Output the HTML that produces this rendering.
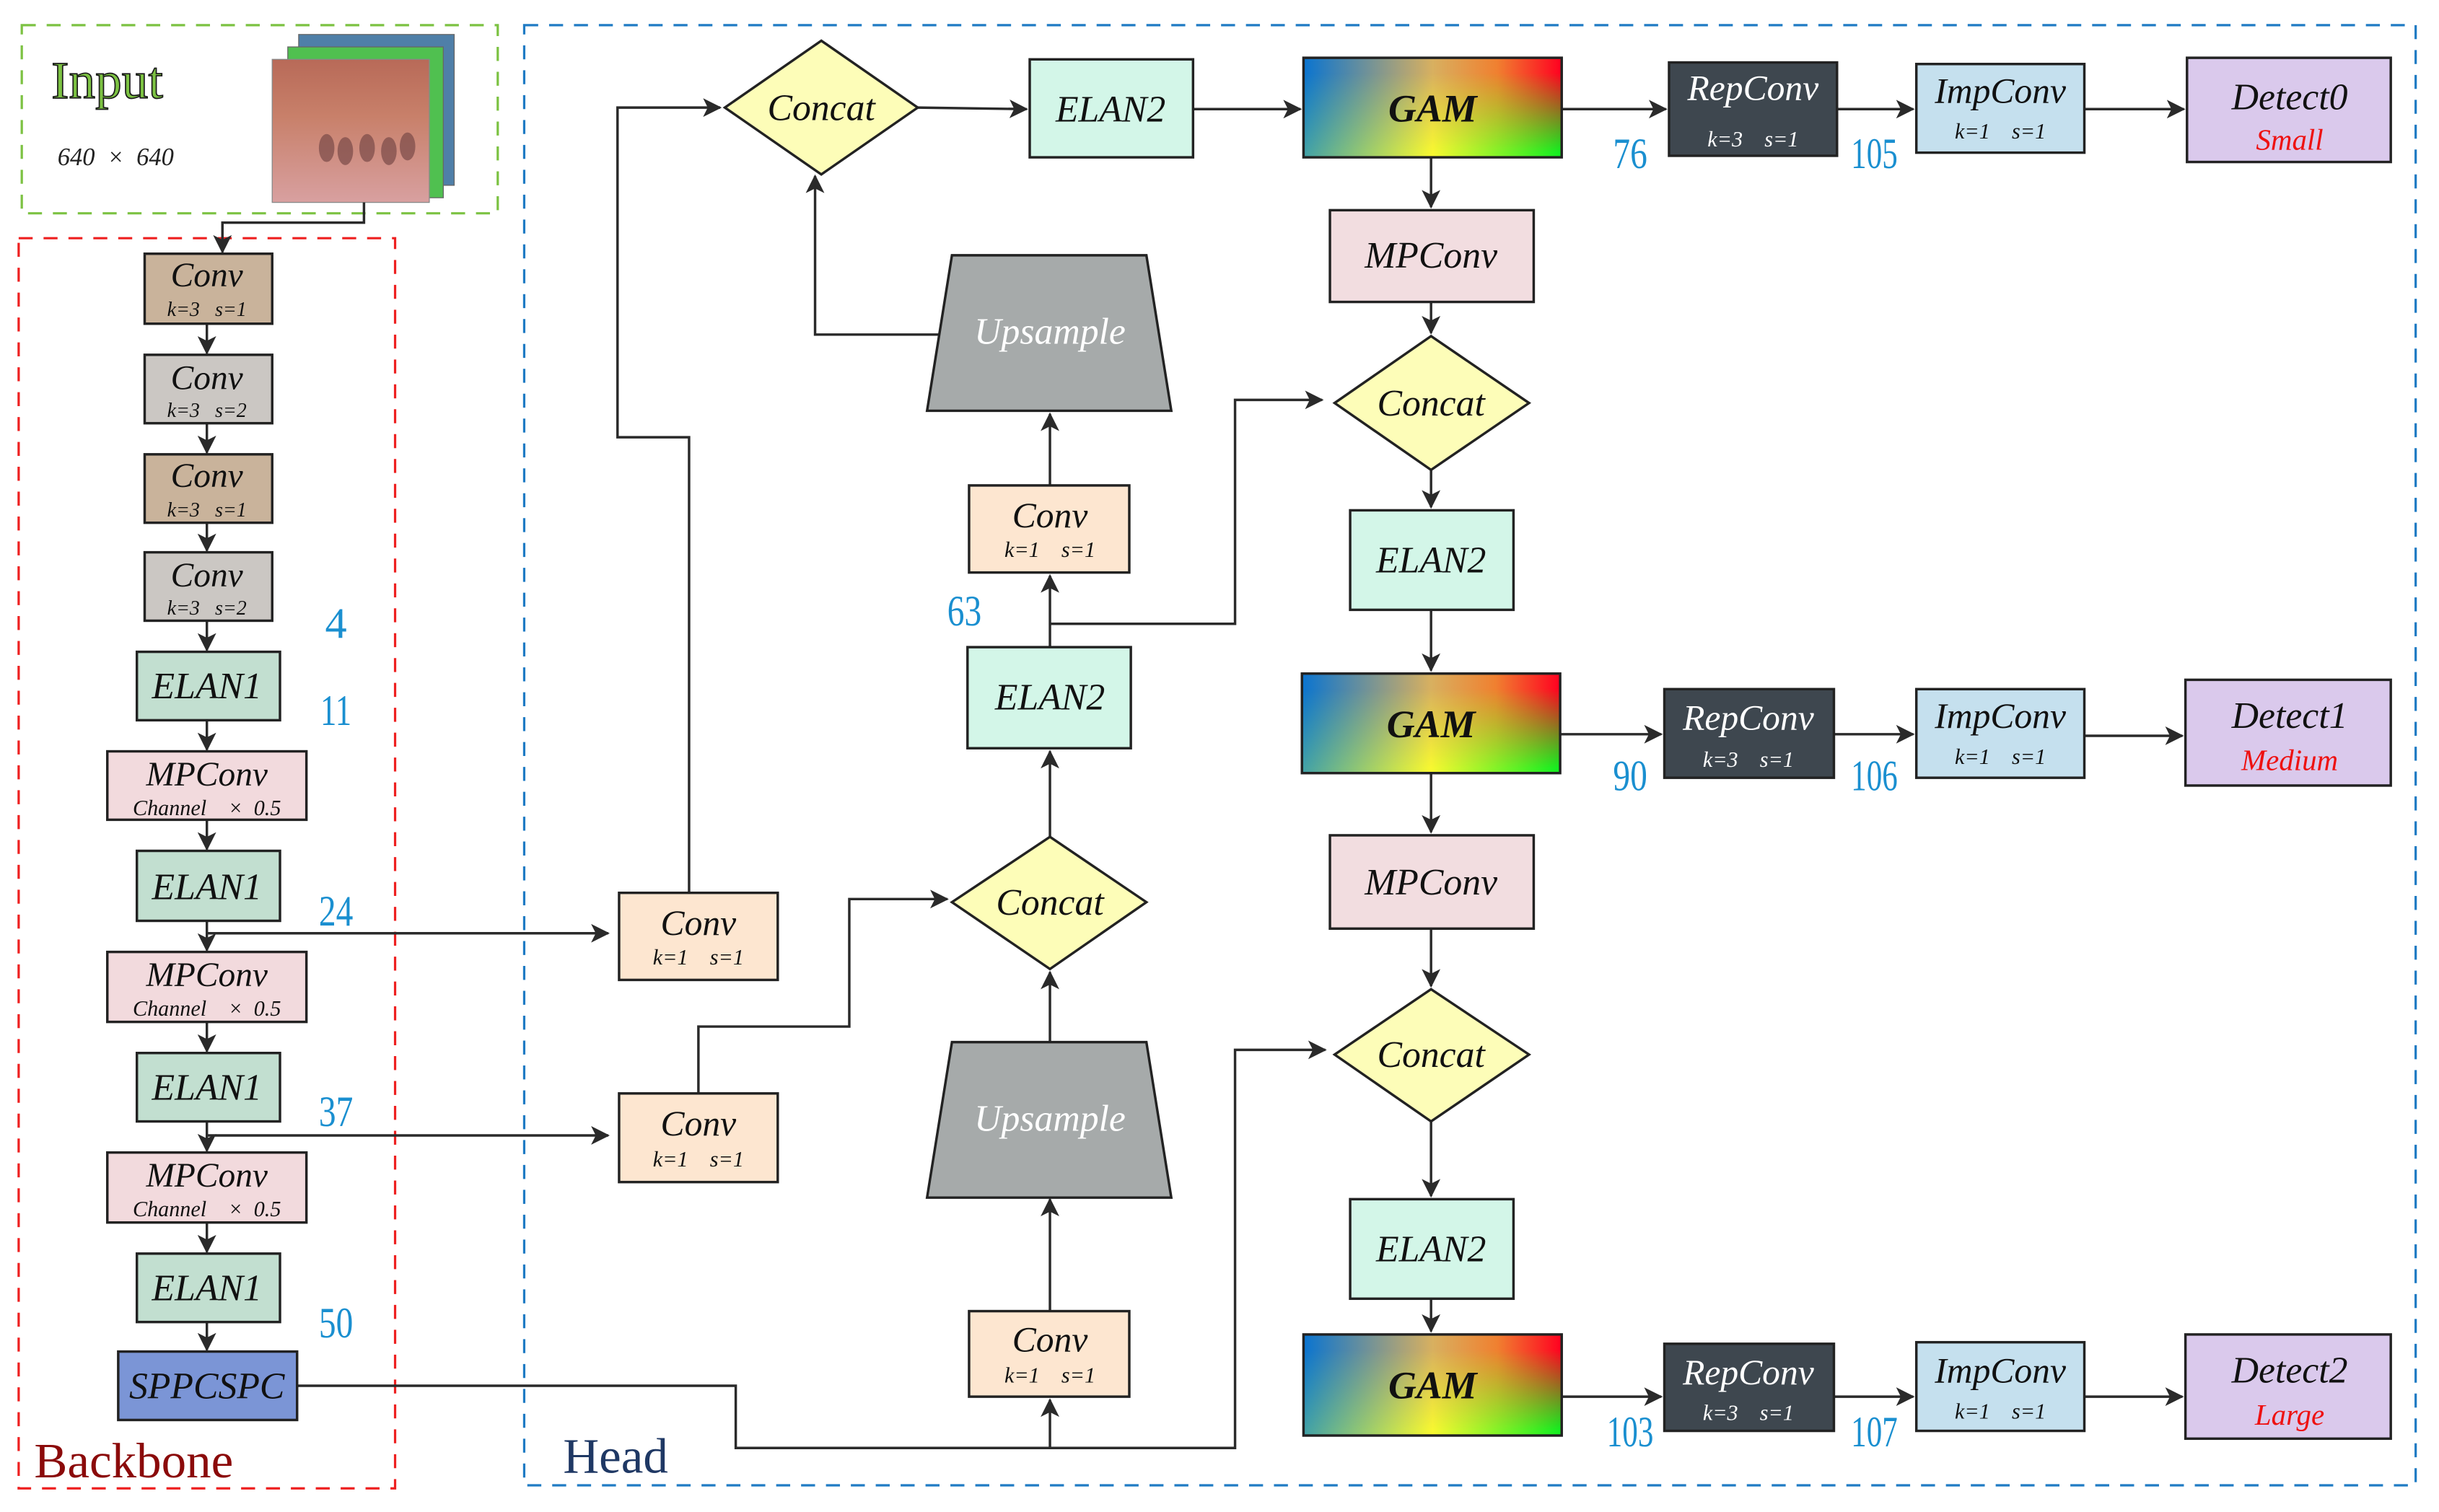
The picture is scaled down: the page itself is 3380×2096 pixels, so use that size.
<!DOCTYPE html>
<html><head><meta charset="utf-8"><style>
html,body{margin:0;padding:0;background:#fff;}
svg{display:block;}
text{font-family:"Liberation Serif",serif;font-style:italic;white-space:pre;}
text.n{font-style:normal;}
</style></head><body>
<svg width="3380" height="2096" viewBox="0 0 1568 972" xmlns="http://www.w3.org/2000/svg" xml:space="preserve">
<defs>
<marker id="a" viewBox="0 0 12 12" refX="11" refY="6" markerWidth="12" markerHeight="12" markerUnits="userSpaceOnUse" orient="auto">
<path d="M0,0 L12,6 L0,12 L3,6 z" fill="#2a2a2a"/></marker>
<linearGradient id="gt" x1="0" x2="1" y1="0" y2="0"><stop offset="0" stop-color="#0a74d0"/><stop offset="0.5" stop-color="#d8b060"/><stop offset="0.75" stop-color="#f08030"/><stop offset="1" stop-color="#ff0020"/></linearGradient>
<linearGradient id="gb" x1="0" x2="1" y1="0" y2="0"><stop offset="0" stop-color="#40a0a8"/><stop offset="0.5" stop-color="#f8f830"/><stop offset="1" stop-color="#10ee20"/></linearGradient>
<linearGradient id="gv" x1="0" x2="0" y1="0" y2="1"><stop offset="0.15" stop-color="#fff" stop-opacity="0"/><stop offset="0.95" stop-color="#fff" stop-opacity="1"/></linearGradient>
<mask id="gm" maskContentUnits="objectBoundingBox"><rect width="1" height="1" fill="url(#gv)"/></mask>
<linearGradient id="img" x1="0" x2="0" y1="0" y2="1"><stop offset="0" stop-color="#b86a58"/><stop offset="0.4" stop-color="#c8806a"/><stop offset="1" stop-color="#d8a0a0"/></linearGradient>
</defs>
<g fill="none" stroke-width="1.5" stroke-dasharray="9,7">
<rect x="14" y="16" width="306" height="121" stroke="#7cc242"/>
<rect x="12" y="153" width="242" height="804" stroke="#ee2020"/>
<rect x="337" y="16" width="1216" height="939" stroke="#1f7bc4"/>
</g>
<text class="n" x="33" y="63" font-size="34" fill="#7cc242" stroke="#1a1a1a" stroke-width="0.8">Input</text>
<text x="37" y="106" font-size="16" fill="#222">640  ×  640</text>
<rect x="192" y="22" width="100" height="97" fill="#4f7fa8" stroke="#666" stroke-width="0.6"/>
<rect x="185" y="30" width="100" height="97" fill="#50c050" stroke="#666" stroke-width="0.6"/>
<rect x="175" y="38" width="101" height="92" fill="url(#img)" stroke="#888" stroke-width="0.6"/>
<g fill="#7a4a48" opacity="0.7"><ellipse cx="210" cy="95" rx="5" ry="9"/><ellipse cx="222" cy="97" rx="5" ry="9"/><ellipse cx="236" cy="95" rx="5" ry="9"/><ellipse cx="250" cy="97" rx="5" ry="9"/><ellipse cx="262" cy="94" rx="5" ry="9"/></g>
<text class="n" x="22" y="950" font-size="32" fill="#8b0a0a">Backbone</text>
<text class="n" x="362" y="947" font-size="32" fill="#1f3864">Head</text>

<g stroke="#2a2a2a" stroke-width="1.6" fill="none" marker-end="url(#a)">
<path d="M234,130 V143 H143 V162"/>
<path d="M133,208 V227"/><path d="M133,272 V291"/><path d="M133,336 V354"/><path d="M133,399 V418"/>
<path d="M133,463 V482"/><path d="M133,527 V546"/><path d="M133,592 V611"/><path d="M133,657 V676"/>
<path d="M133,721 V740"/><path d="M133,786 V805"/><path d="M133,850 V868"/>
<path d="M133,600 H391"/><path d="M133,730 H391"/>
<path d="M443,574 V281 H397 V69 H463"/>
<path d="M449,703 V660 H546 V578 H609"/>
<path d="M191,891 H473 V931 H794 V675 H852"/>
<path d="M675,931 V900"/>
<path d="M675,843 V771"/><path d="M675,670 V625"/><path d="M675,538 V483"/>
<path d="M675,416 V370"/><path d="M675,401 H794 V257 H850"/>
<path d="M675,312 V266"/>
<path d="M605,215 H524 V113"/>
<path d="M590,69 L660,70"/><path d="M767,70 H836"/>
<path d="M1004,70 H1071"/><path d="M1181,70 H1230"/><path d="M1340,70 H1404"/>
<path d="M920,101 V133"/><path d="M920,194 V214"/><path d="M920,302 V326"/><path d="M920,392 V431"/>
<path d="M1003,472 H1068"/><path d="M1179,472 H1230"/><path d="M1340,473 H1403"/>
<path d="M920,497 V535"/><path d="M920,597 V634"/><path d="M920,721 V769"/><path d="M920,835 V856"/>
<path d="M1004,898 H1068"/><path d="M1179,898 H1230"/><path d="M1340,898 H1403"/>
</g>

<g stroke="#222" stroke-width="1.6">
<rect x="93" y="163" width="82" height="45" fill="#c9b39b"/>
<rect x="93" y="228" width="82" height="44" fill="#cbc7c3"/>
<rect x="93" y="292" width="82" height="44" fill="#c9b39b"/>
<rect x="93" y="355" width="82" height="44" fill="#cbc7c3"/>
<rect x="88" y="419" width="92" height="44" fill="#c2dfd0"/>
<rect x="69" y="483" width="128" height="44" fill="#f2dadd"/>
<rect x="88" y="547" width="92" height="45" fill="#c2dfd0"/>
<rect x="69" y="612" width="128" height="45" fill="#f2dadd"/>
<rect x="88" y="677" width="92" height="44" fill="#c2dfd0"/>
<rect x="69" y="741" width="128" height="45" fill="#f2dadd"/>
<rect x="88" y="806" width="92" height="44" fill="#c2dfd0"/>
<rect x="76" y="869" width="115" height="44" fill="#7b95d6"/>
<rect x="398" y="574" width="102" height="56" fill="#fde6d0"/>
<rect x="398" y="703" width="102" height="57" fill="#fde6d0"/>
<polygon points="528,26 590,69 528,112 466,69" fill="#fdfdb8"/>
<polygon points="675,538 737,580 675,623 612,580" fill="#fdfdb8"/>
<polygon points="920,216 983,259 920,302 858,259" fill="#fdfdb8"/>
<polygon points="920,636 983,678 920,721 858,678" fill="#fdfdb8"/>
<polygon points="612,164 737,164 753,264 596,264" fill="#a6aaaa"/>
<polygon points="612,670 737,670 753,770 596,770" fill="#a6aaaa"/>
<rect x="623" y="312" width="103" height="56" fill="#fde6d0"/>
<rect x="622" y="416" width="105" height="65" fill="#d3f6e8"/>
<rect x="623" y="843" width="103" height="55" fill="#fde6d0"/>
<rect x="662" y="38" width="105" height="63" fill="#d3f6e8"/>
<rect x="855" y="135" width="131" height="59" fill="#f2dde0"/>
<rect x="868" y="328" width="105" height="64" fill="#d3f6e8"/>
<rect x="855" y="537" width="131" height="60" fill="#f2dde0"/>
<rect x="868" y="771" width="105" height="64" fill="#d3f6e8"/>
<rect x="1073" y="40" width="108" height="60" fill="#3e474f"/>
<rect x="1070" y="443" width="109" height="57" fill="#3e474f"/>
<rect x="1070" y="864" width="109" height="56" fill="#3e474f"/>
<rect x="1232" y="41" width="108" height="57" fill="#c5e0ee"/>
<rect x="1232" y="443" width="108" height="57" fill="#c5e0ee"/>
<rect x="1232" y="863" width="108" height="57" fill="#c5e0ee"/>
<rect x="1406" y="37" width="131" height="67" fill="#dac9ec"/>
<rect x="1405" y="437" width="132" height="68" fill="#dac9ec"/>
<rect x="1405" y="858" width="132" height="67" fill="#dac9ec"/>
</g>
<g>
<rect x="838" y="37" width="166" height="64" fill="url(#gt)"/><rect x="838" y="37" width="166" height="64" fill="url(#gb)" mask="url(#gm)"/><rect x="838" y="37" width="166" height="64" fill="none" stroke="#222" stroke-width="1.6"/>
<rect x="837" y="433" width="166" height="64" fill="url(#gt)"/><rect x="837" y="433" width="166" height="64" fill="url(#gb)" mask="url(#gm)"/><rect x="837" y="433" width="166" height="64" fill="none" stroke="#222" stroke-width="1.6"/>
<rect x="838" y="858" width="166" height="65" fill="url(#gt)"/><rect x="838" y="858" width="166" height="65" fill="url(#gb)" mask="url(#gm)"/><rect x="838" y="858" width="166" height="65" fill="none" stroke="#222" stroke-width="1.6"/>
</g>

<g fill="#111" text-anchor="middle">
<text x="133" y="184" font-size="22">Conv</text><text x="133" y="203" font-size="13">k=3   s=1</text>
<text x="133" y="250" font-size="22">Conv</text><text x="133" y="268" font-size="13">k=3   s=2</text>
<text x="133" y="313" font-size="22">Conv</text><text x="133" y="332" font-size="13">k=3   s=1</text>
<text x="133" y="377" font-size="22">Conv</text><text x="133" y="395" font-size="13">k=3   s=2</text>
<text x="133" y="449" font-size="24">ELAN1</text>
<text x="133" y="505" font-size="22">MPConv</text><text x="133" y="524" font-size="14">Channel    ×  0.5</text>
<text x="133" y="578" font-size="24">ELAN1</text>
<text x="133" y="634" font-size="22">MPConv</text><text x="133" y="653" font-size="14">Channel    ×  0.5</text>
<text x="133" y="707" font-size="24">ELAN1</text>
<text x="133" y="763" font-size="22">MPConv</text><text x="133" y="782" font-size="14">Channel    ×  0.5</text>
<text x="133" y="836" font-size="24">ELAN1</text>
<text x="133" y="899" font-size="24">SPPCSPC</text>
<text x="449" y="601" font-size="23">Conv</text><text x="449" y="620" font-size="14">k=1    s=1</text>
<text x="449" y="730" font-size="23">Conv</text><text x="449" y="750" font-size="14">k=1    s=1</text>
<text x="528" y="77" font-size="24">Concat</text>
<text x="675" y="588" font-size="24">Concat</text>
<text x="920" y="267" font-size="24">Concat</text>
<text x="920" y="686" font-size="24">Concat</text>
<text x="675" y="221" font-size="24" fill="#fff">Upsample</text>
<text x="675" y="727" font-size="24" fill="#fff">Upsample</text>
<text x="675" y="339" font-size="23">Conv</text><text x="675" y="358" font-size="14">k=1    s=1</text>
<text x="675" y="456" font-size="24">ELAN2</text>
<text x="675" y="869" font-size="23">Conv</text><text x="675" y="889" font-size="14">k=1    s=1</text>
<text x="714" y="78" font-size="24">ELAN2</text>
<text x="920" y="172" font-size="24">MPConv</text>
<text x="920" y="368" font-size="24">ELAN2</text>
<text x="920" y="575" font-size="24">MPConv</text>
<text x="920" y="811" font-size="24">ELAN2</text>
<text x="921" y="78" font-size="25" font-weight="bold">GAM</text>
<text x="920" y="474" font-size="25" font-weight="bold">GAM</text>
<text x="921" y="899" font-size="25" font-weight="bold">GAM</text>
<g fill="#fff">
<text x="1127" y="64" font-size="23">RepConv</text><text x="1127" y="94" font-size="14">k=3    s=1</text>
<text x="1124" y="469" font-size="23">RepConv</text><text x="1124" y="493" font-size="14">k=3    s=1</text>
<text x="1124" y="890" font-size="23">RepConv</text><text x="1124" y="913" font-size="14">k=3    s=1</text>
</g>
<text x="1286" y="66" font-size="23">ImpConv</text><text x="1286" y="89" font-size="14">k=1    s=1</text>
<text x="1286" y="468" font-size="23">ImpConv</text><text x="1286" y="491" font-size="14">k=1    s=1</text>
<text x="1286" y="889" font-size="23">ImpConv</text><text x="1286" y="912" font-size="14">k=1    s=1</text>
<text x="1472" y="70" font-size="24">Detect0</text><text x="1472" y="96" font-size="19" fill="#ee1111">Small</text>
<text x="1472" y="468" font-size="24">Detect1</text><text x="1472" y="495" font-size="19" fill="#ee1111">Medium</text>
<text x="1472" y="889" font-size="24">Detect2</text><text x="1472" y="916" font-size="19" fill="#ee1111">Large</text>
</g>
<g fill="#1a8fd0" font-size="28" text-anchor="middle">
<text class="n" x="216" y="410">4</text>
<text class="n" x="216" y="466" textLength="20" lengthAdjust="spacingAndGlyphs">11</text>
<text class="n" x="216" y="595" textLength="22" lengthAdjust="spacingAndGlyphs">24</text>
<text class="n" x="216" y="724" textLength="22" lengthAdjust="spacingAndGlyphs">37</text>
<text class="n" x="216" y="860" textLength="22" lengthAdjust="spacingAndGlyphs">50</text>
<text class="n" x="620" y="402" textLength="22" lengthAdjust="spacingAndGlyphs">63</text>
<text class="n" x="1048" y="108" textLength="22" lengthAdjust="spacingAndGlyphs">76</text>
<text class="n" x="1205" y="108" textLength="30" lengthAdjust="spacingAndGlyphs">105</text>
<text class="n" x="1048" y="508" textLength="22" lengthAdjust="spacingAndGlyphs">90</text>
<text class="n" x="1205" y="508" textLength="30" lengthAdjust="spacingAndGlyphs">106</text>
<text class="n" x="1048" y="930" textLength="30" lengthAdjust="spacingAndGlyphs">103</text>
<text class="n" x="1205" y="930" textLength="30" lengthAdjust="spacingAndGlyphs">107</text>
</g>
</svg>
</body></html>
